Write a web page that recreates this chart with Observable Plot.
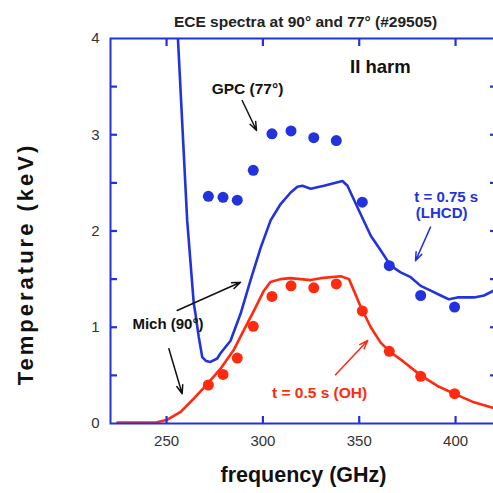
<!DOCTYPE html>
<html>
<head>
<meta charset="utf-8">
<script src="https://cdn.jsdelivr.net/npm/d3@7"></script>
<script src="https://cdn.jsdelivr.net/npm/@observablehq/plot@0.6"></script>
<style>
  html, body { margin: 0; padding: 0; background: #fff; }
  #chart svg { display: block; }
</style>
</head>
<body>
<div id="chart"></div>
<script>
// ---- data ----
const lhcdLineFreq = [254.5, 255.9, 260.7, 264.1, 265.0, 266.7, 268.5, 270.5, 272.8, 276.3, 278.0, 283.2, 288.4, 293.6, 298.9, 304.0, 309.2, 314.4, 317.9, 320.5, 324.8, 331.7, 341.3, 343.9, 349.0, 356.0, 361.1, 366.3, 371.5, 376.7, 381.9, 387.1, 392.3, 396.6, 401.0, 405.3, 409.6, 414.8, 419.8, 421.5];
const lhcdLineTemp = [4.5, 4.0, 2.11, 1.25, 1.14, 0.90, 0.69, 0.65, 0.64, 0.675, 0.73, 0.86, 1.14, 1.49, 1.83, 2.11, 2.28, 2.40, 2.46, 2.47, 2.44, 2.47, 2.52, 2.47, 2.25, 1.95, 1.80, 1.64, 1.57, 1.52, 1.43, 1.38, 1.33, 1.29, 1.31, 1.31, 1.31, 1.33, 1.38, 1.40];

const ohLineFreq = [224.5, 244.4, 250.4, 257.3, 264.2, 271.1, 278.0, 285.0, 290.1, 295.3, 300.5, 303.9, 309.1, 314.3, 324.8, 330.0, 340.4, 344.7, 350.8, 356.0, 361.1, 366.3, 373.2, 381.9, 390.6, 399.2, 409.6, 419.8, 421.5];
const ohLineTemp = [0.01, 0.01, 0.04, 0.12, 0.26, 0.41, 0.57, 0.77, 0.97, 1.17, 1.38, 1.47, 1.50, 1.51, 1.49, 1.51, 1.53, 1.50, 1.21, 1.00, 0.84, 0.74, 0.64, 0.50, 0.39, 0.31, 0.22, 0.16, 0.15];

const gpcFreq = [271.7, 279.3, 286.7, 295.0, 304.7, 314.6, 326.4, 338.1, 351.6, 365.6, 381.9, 399.5];
const gpcLhcdTemp = [2.36, 2.35, 2.32, 2.63, 3.01, 3.04, 2.97, 2.94, 2.30, 1.64, 1.33, 1.21];
const gpcOhTemp = [0.40, 0.51, 0.68, 1.01, 1.32, 1.43, 1.41, 1.45, 1.17, 0.75, 0.49, 0.31];

const xTicks = [250, 300, 350, 400];
const yTicks = [0, 1, 2, 3, 4];
const yMinorTicks = [0.5, 1, 1.5, 2, 2.5, 3, 3.5];

const titleText = "ECE spectra at 90° and 77° (#29505)";
const xLabel = "frequency (GHz)";
const yLabel = "Temperature (keV)";

// annotation labels and arrows (data coordinates)
const labels = [
  {text: "II harm", f: 361.0, t: 3.70, size: 18.5, color: "#111", anchor: "middle"},
  {text: "GPC (77°)", f: 292.0, t: 3.48, size: 15.5, color: "#111", anchor: "middle"},
  {text: "Mich (90°)", f: 250.7, t: 1.03, size: 15, color: "#111", anchor: "middle"},
  {text: "t = 0.75 s", f: 378.6, t: 2.35, size: 15, color: "#2233dd", anchor: "start"},
  {text: "(LHCD)", f: 379.4, t: 2.19, size: 15, color: "#2233dd", anchor: "start"},
  {text: "t = 0.5 s (OH)", f: 329.4, t: 0.32, size: 15.5, color: "#ff2a10", anchor: "middle"}
];
const arrows = [
  {f1: 289.25, t1: 3.356, f2: 296.7, t2: 3.044, color: "#111"},
  {f1: 255.5, t1: 1.174, f2: 288.4, t2: 1.468, color: "#111"},
  {f1: 251.2, t1: 0.776, f2: 258.1, t2: 0.309, color: "#111"},
  {f1: 387.0, t1: 2.04, f2: 379.2, t2: 1.69, color: "#2233dd"},
  {f1: 337.7, t1: 0.506, f2: 354.4, t2: 0.862, color: "#ff2a10"}
];

// ---- build tables ----
const lhcdLine = lhcdLineFreq.map((f, i) => ({f, t: lhcdLineTemp[i]}));
const ohLine = ohLineFreq.map((f, i) => ({f, t: ohLineTemp[i]}));
const lhcdDots = gpcFreq.map((f, i) => ({f, t: gpcLhcdTemp[i]}));
const ohDots = gpcFreq.map((f, i) => ({f, t: gpcOhTemp[i]}));

const BLUE = "#2233dd";
const RED = "#ff2a10";
const W = 493, H = 493;
const mL = 110, mR = -3, mT = 38, mB = 70;
const TICK = 7;
const FONT = "'Liberation Sans', Arial, Helvetica, sans-serif";

const chart = Plot.plot({
  width: W,
  height: H,
  marginLeft: mL,
  marginRight: mR,
  marginTop: mT,
  marginBottom: mB,
  style: {fontFamily: FONT, background: "#fff", overflow: "visible"},
  x: {domain: [220.9, 421.25]},
  y: {domain: [0, 4]},
  marks: [
    // data
    Plot.line(lhcdLine, {x: "f", y: "t", stroke: BLUE, strokeWidth: 2.6, clip: true}),
    Plot.line(ohLine, {x: "f", y: "t", stroke: RED, strokeWidth: 2.6, clip: true}),
    Plot.dot(lhcdDots, {x: "f", y: "t", r: 5.5, fill: BLUE, stroke: "none"}),
    Plot.dot(ohDots, {x: "f", y: "t", r: 5.5, fill: RED, stroke: "none"}),
    // annotations
    Plot.arrow(arrows, {x1: "f1", y1: "t1", x2: "f2", y2: "t2", stroke: "color", strokeWidth: 1.5, headLength: 9, headAngle: 40}),
    ...labels.map(l => Plot.text([l], {x: "f", y: "t", text: "text", fontSize: l.size, fontWeight: "bold", fill: l.color, textAnchor: l.anchor})),
    // frame
    Plot.frame({stroke: BLUE, strokeWidth: 2}),
    // inward ticks (axis ticks shifted inside the frame)
    Plot.axisY(yMinorTicks, {anchor: "left", tickSize: TICK, dx: TICK, text: null, label: null, stroke: BLUE, strokeWidth: 2.2}),
    Plot.axisY(yMinorTicks, {anchor: "right", tickSize: TICK, dx: -TICK, text: null, label: null, stroke: BLUE, strokeWidth: 2.2}),
    Plot.axisX(xTicks, {anchor: "bottom", tickSize: TICK, dy: -TICK, text: null, label: null, stroke: BLUE, strokeWidth: 2.2}),
    Plot.axisX(xTicks, {anchor: "top", tickSize: TICK, dy: TICK, text: null, label: null, stroke: BLUE, strokeWidth: 2.2}),
    // tick labels
    Plot.axisX(xTicks, {anchor: "bottom", tickSize: 0, tickPadding: 12, fontSize: 15, fill: "#333", label: null, tickFormat: "d"}),
    Plot.axisY(yTicks, {anchor: "left", tickSize: 0, tickPadding: 11, fontSize: 15, fill: "#333", label: null, tickFormat: "d"}),
    // titles
    Plot.text([titleText], {frameAnchor: "top", text: d => d, dx: 2, dy: -23, fontSize: 15.5, fontWeight: "bold", fill: "#222"}),
    Plot.text([xLabel], {frameAnchor: "bottom", text: d => d, dx: 0, dy: 58, fontSize: 21.5, fontWeight: "bold", fill: "#111"}),
    Plot.text([yLabel], {frameAnchor: "left", textAnchor: "middle", text: d => d, dx: -85, dy: 33, rotate: -90, fontSize: 22, fontWeight: "bold", fill: "#111"})
  ]
});
// wider letter spacing for the y-axis title, as in the reference
d3.select(chart).selectAll("text").filter(function() { return this.textContent === yLabel; }).style("letter-spacing", "3px");
document.getElementById("chart").appendChild(chart);
</script>
</body>
</html>
